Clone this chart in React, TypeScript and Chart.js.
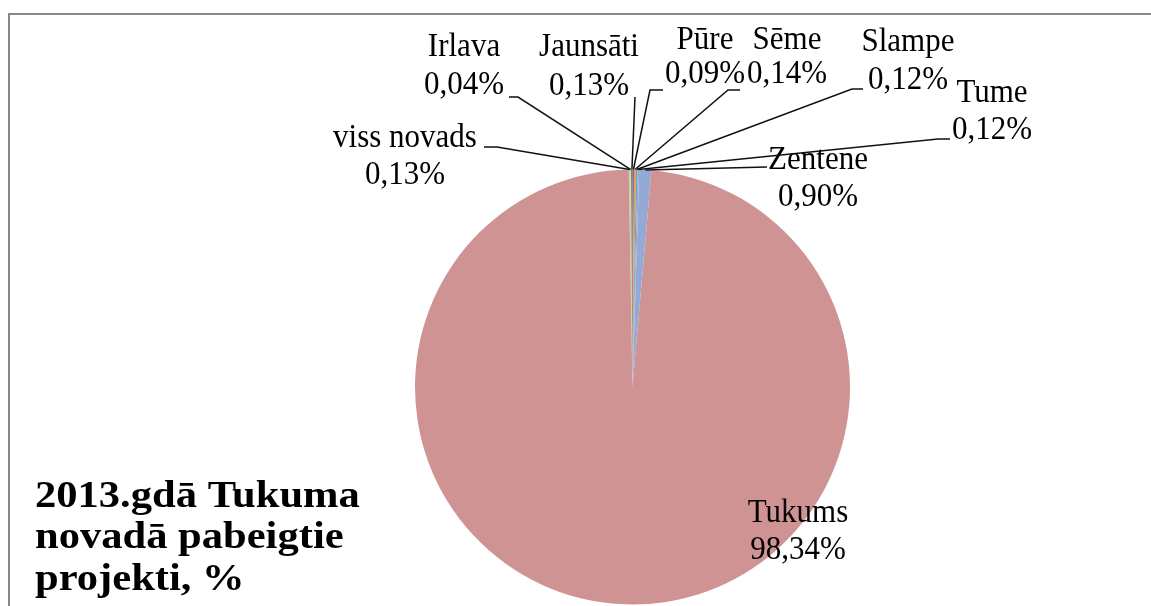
import React, { useEffect, useRef } from "react";
import { Chart, registerables } from "chart.js";

Chart.register(...registerables);

const categories = ["viss novads", "Irlava", "Jaunsāti", "Pūre", "Sēme", "Slampe", "Tume", "Zentene", "Tukums"];
const values = [0.13, 0.04, 0.13, 0.09, 0.14, 0.12, 0.12, 0.9, 98.34];
const colors = ["#C3D69B", "#D6C29C", "#7A7F6E", "#7E65A0", "#F4954A", "#5FA8C0", "#9FA7CC", "#94AAD6", "#D09393"];
const titleLines = ["2013.gdā Tukuma", "novadā pabeigtie", "projekti, %"];

// label placement: text centre x, first and second line y, leader line bend points
const labelLayout = [
  { cx: 405, y1: 138, y2: 175, pts: [[497, 147], [484, 147]] },
  { cx: 464, y1: 47, y2: 85, pts: [[518, 97], [509, 97]] },
  { cx: 589, y1: 47, y2: 86, pts: [[635, 97]] },
  { cx: 705, y1: 40, y2: 74, pts: [[650, 90], [663, 90]] },
  { cx: 787, y1: 40, y2: 74, pts: [[728, 90], [740, 90]] },
  { cx: 908, y1: 42, y2: 80, pts: [[852, 89], [863, 89]] },
  { cx: 992, y1: 93, y2: 130, pts: [[938, 139], [950, 139]] },
  { cx: 818, y1: 160, y2: 197, pts: [[767, 167]] },
  { cx: 798, y1: 513, y2: 550, pts: null },
];

const fmt = (v: number) => v.toFixed(2).replace(".", ",") + "%";

const decorPlugin = {
  id: "decor",
  beforeDraw(chart: any) {
    const ctx = chart.ctx;
    ctx.save();
    ctx.strokeStyle = "#878787";
    ctx.lineWidth = 2;
    ctx.beginPath();
    ctx.moveTo(9, 606);
    ctx.lineTo(9, 14);
    ctx.lineTo(1151, 14);
    ctx.stroke();
    ctx.restore();
  },
  afterDraw(chart: any) {
    const ctx = chart.ctx;
    const meta = chart.getDatasetMeta(0);
    ctx.save();
    ctx.strokeStyle = "#111";
    ctx.lineWidth = 1.5;
    meta.data.forEach((arc: any, i: number) => {
      const lay = labelLayout[i];
      if (!lay || !lay.pts) return;
      const mid = (arc.startAngle + arc.endAngle) / 2;
      const sx = arc.x + arc.outerRadius * Math.cos(mid);
      const sy = arc.y + arc.outerRadius * Math.sin(mid);
      ctx.beginPath();
      ctx.moveTo(sx, sy);
      lay.pts.forEach((p: number[]) => ctx.lineTo(p[0], p[1]));
      ctx.stroke();
    });
    ctx.fillStyle = "#000";
    ctx.textAlign = "center";
    ctx.textBaseline = "middle";
    ctx.font = "31px 'Liberation Serif'";
    categories.forEach((c, i) => {
      const lay = labelLayout[i];
      ctx.save();
      ctx.translate(lay.cx, 0);
      ctx.scale(1, 1.06);
      ctx.fillText(c, 0, lay.y1 / 1.06);
      ctx.fillText(fmt(values[i]), 0, lay.y2 / 1.06);
      ctx.restore();
    });
    ctx.textAlign = "left";
    ctx.font = "bold 38px 'Liberation Serif'";
    titleLines.forEach((t, i) => {
      ctx.save();
      ctx.translate(35, 497 + i * 41.5);
      ctx.scale(1.12, 1);
      ctx.fillText(t, 0, 0);
      ctx.restore();
    });
    ctx.restore();
  },
};

export default function App() {
  const ref = useRef<HTMLCanvasElement>(null);
  useEffect(() => {
    if (!ref.current) return;
    const chart = new Chart(ref.current, {
      type: "pie",
      data: {
        labels: categories,
        datasets: [{ data: values, backgroundColor: colors, borderWidth: 0 }],
      },
      options: {
        animation: false,
        responsive: false,
        rotation: -1,
        layout: { padding: { left: 415, top: 169.5, right: 301, bottom: 1.5 } },
        plugins: { legend: { display: false }, tooltip: { enabled: false } },
      },
      plugins: [decorPlugin],
    });
    return () => chart.destroy();
  }, []);
  return (
    <div style={{ position: "fixed", left: 0, top: 0, width: 1151, height: 606, background: "#fff" }}>
      <canvas ref={ref} width={1151} height={606} />
    </div>
  );
}
